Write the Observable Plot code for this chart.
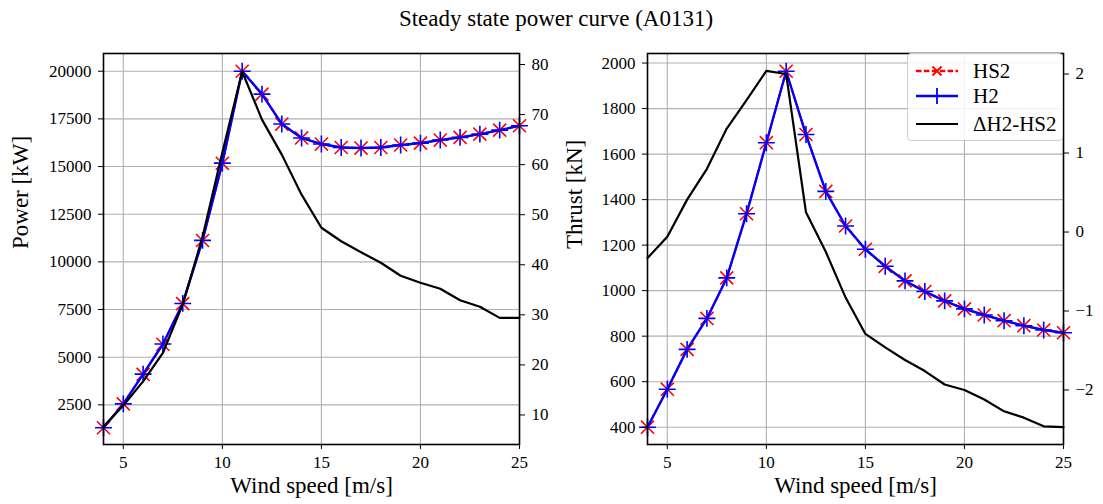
<!DOCTYPE html>
<html><head><meta charset="utf-8">
<script src="https://cdn.jsdelivr.net/npm/d3@7"></script>
<script src="https://cdn.jsdelivr.net/npm/@observablehq/plot@0.6"></script>
<style>
body{margin:0;background:#fff;}
#fig{position:relative;width:1103px;height:504px;font-family:"Liberation Serif",serif;color:#000;overflow:hidden;}
#title{position:absolute;top:5px;left:556px;transform:translateX(-50%);font-size:23px;line-height:28px;white-space:nowrap;}
.panel{position:absolute;top:40px;}
#legend{position:absolute;left:907px;top:53px;width:154px;height:86px;border:1px solid #cccccc;border-radius:4px;background:rgba(255,255,255,0.85);font-size:21px;}
#legend .row{position:absolute;left:7px;height:26px;display:flex;align-items:center;}
#legend .row span{margin-left:14px;}
</style></head><body>
<div id="fig">
  <div id="title">Steady state power curve (A0131)</div>
  <div id="left" class="panel" style="left:0px"></div>
  <div id="right" class="panel" style="left:551px"></div>
  <div id="legend"></div>
</div>
<script>
// ---- data ----
const windSpeed = [4, 5, 6, 7, 8, 9, 10, 11, 12, 13, 14, 15, 16, 17, 18, 19, 20, 21, 22, 23, 24, 25];
const powerHS2 = [1300, 2550, 4100, 5680, 7810, 11120, 15170, 20000, 18800, 17230, 16500, 16180, 16000, 15970, 16000, 16130, 16230, 16390, 16530, 16700, 16910, 17140];
const powerH2 = [1300, 2550, 4110, 5690, 7820, 11130, 15180, 20000, 18800, 17230, 16500, 16180, 16000, 15970, 16000, 16130, 16230, 16390, 16530, 16700, 16910, 17140];
const powerDelta = [7.7, 11.9, 16.7, 22.4, 32.1, 45.6, 62.4, 78.6, 69.0, 62.0, 54.0, 47.4, 44.7, 42.5, 40.4, 37.8, 36.4, 35.2, 32.9, 31.6, 29.4, 29.4];
const thrustHS2 = [400, 567, 742, 878, 1056, 1338, 1650, 1964, 1686, 1436, 1284, 1182, 1107, 1043, 996, 955, 920, 893, 868, 846, 827, 815];
const thrustH2 = [400, 567, 742, 878, 1056, 1338, 1650, 1964, 1686, 1436, 1284, 1182, 1107, 1043, 996, 955, 920, 893, 868, 846, 827, 815];
const thrustDelta = [-0.33, -0.06, 0.41, 0.80, 1.31, 1.67, 2.04, 2.00, 0.25, -0.25, -0.83, -1.29, -1.46, -1.62, -1.76, -1.93, -2.00, -2.12, -2.27, -2.35, -2.46, -2.47];
const xTicks = [5, 10, 15, 20, 25];
const powerTicks = [2500, 5000, 7500, 10000, 12500, 15000, 17500, 20000];
const powerDeltaTicks = [10, 20, 30, 40, 50, 60, 70, 80];
const thrustTicks = [400, 600, 800, 1000, 1200, 1400, 1600, 1800, 2000];
const thrustDeltaTicks = [-2, -1, 0, 1, 2];
const seriesNames = ["HS2", "H2", "\u0394H2-HS2"];
const titleText = "Steady state power curve (A0131)";
const xLabel = "Wind speed [m/s]";

const fmt = d3.format("d");
const GRID = "#b0b0b0";

function panel({hs2, h2, delta, yDomain, deltaDomain, yTicks, deltaTicks, yLabel, width, marginLeft, marginRight, yLabelDx}) {
  const rows = windSpeed.map((x, i) => ({x, hs2: hs2[i], h2: h2[i], delta: delta[i]}));
  const toPrimary = d3.scaleLinear().domain(deltaDomain).range(yDomain);
  return Plot.plot({
    width, height: 464,
    marginLeft, marginRight, marginTop: 13, marginBottom: 60,
    style: {fontFamily: "'Liberation Serif', serif", fontSize: "17px", color: "#000", background: "transparent", overflow: "visible"},
    x: {domain: [4, 25]},
    y: {domain: yDomain},
    marks: [
      Plot.gridX(xTicks, {stroke: GRID, strokeOpacity: 1, strokeWidth: 1.1}),
      Plot.gridY(yTicks, {stroke: GRID, strokeOpacity: 1, strokeWidth: 1.1}),
      Plot.line(rows, {x: "x", y: "hs2", stroke: "#ff0000", strokeWidth: 2, strokeDasharray: "5.5,2.4"}),
      Plot.dot(rows, {x: "x", y: "hs2", symbol: "times", stroke: "#ff0000", strokeWidth: 1.6, r: 6}),
      Plot.line(rows, {x: "x", y: "h2", stroke: "#0000ff", strokeWidth: 2.4}),
      Plot.dot(rows, {x: "x", y: "h2", symbol: "plus", stroke: "#0000ff", strokeWidth: 1.6, r: 5.5}),
      Plot.line(rows, {x: "x", y: d => toPrimary(d.delta), stroke: "#000", strokeWidth: 2.2}),
      Plot.frame({stroke: "#000", strokeWidth: 1.6}),
      Plot.axisX({ticks: xTicks, tickFormat: fmt, tickSize: 5, tickPadding: 6, label: null}),
      Plot.axisY({ticks: yTicks, anchor: "left", tickFormat: fmt, tickSize: 5, tickPadding: 7, label: null}),
      Plot.axisY(deltaTicks, {anchor: "right", y: d => toPrimary(d), tickFormat: d => fmt(d), tickSize: 5, tickPadding: 7, label: null}),
      Plot.text([xLabel], {frameAnchor: "bottom", dy: 48, fontSize: 23, text: d => d}),
      Plot.text([yLabel], {frameAnchor: "left", dx: yLabelDx, rotate: -90, fontSize: 23, text: d => d})
    ]
  });
}

document.getElementById("left").appendChild(panel({
  hs2: powerHS2, h2: powerH2, delta: powerDelta,
  yDomain: [420, 20930], deltaDomain: [4.1, 82.2],
  yTicks: powerTicks, deltaTicks: powerDeltaTicks,
  yLabel: "Power [kW]", width: 551, marginLeft: 103, marginRight: 32, yLabelDx: -83
}));
document.getElementById("right").appendChild(panel({
  hs2: thrustHS2, h2: thrustH2, delta: thrustDelta,
  yDomain: [324, 2042], deltaDomain: [-2.69, 2.26],
  yTicks: thrustTicks, deltaTicks: thrustDeltaTicks,
  yLabel: "Thrust [kN]", width: 552, marginLeft: 96, marginRight: 40, yLabelDx: -73
}));

// legend
const legend = document.getElementById("legend");
const swatches = [
  `<svg width="44" height="20"><line x1="1" y1="10" x2="43" y2="10" stroke="#ff0000" stroke-width="2.4" stroke-dasharray="5.5,2.4"/><path d="M17.5,5.5L26.5,14.5M26.5,5.5L17.5,14.5" stroke="#ff0000" stroke-width="1.8"/></svg>`,
  `<svg width="44" height="24"><line x1="1" y1="12" x2="43" y2="12" stroke="#0000ff" stroke-width="2.4"/><path d="M22,4V20" stroke="#0000ff" stroke-width="1.8"/></svg>`,
  `<svg width="44" height="20"><line x1="1" y1="10" x2="43" y2="10" stroke="#000" stroke-width="2"/></svg>`
];
const rowTops = [4, 29, 57];
seriesNames.forEach((name, i) => {
  const r = document.createElement("div");
  r.className = "row";
  r.style.top = rowTops[i] + "px";
  r.innerHTML = swatches[i] + `<span>${name}</span>`;
  legend.appendChild(r);
});
</script>
</body></html>
